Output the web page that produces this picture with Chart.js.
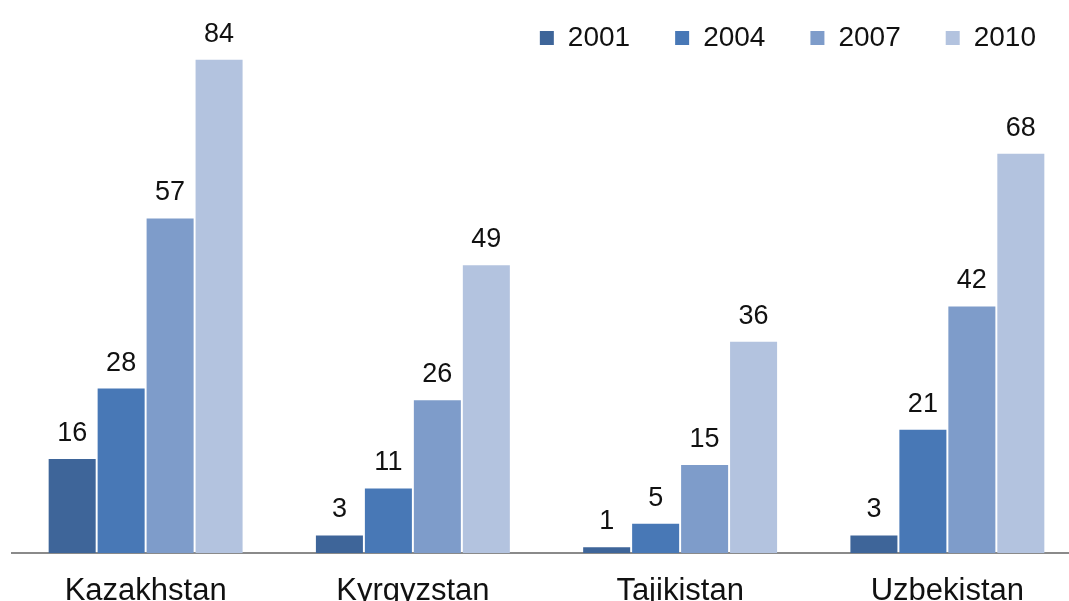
<!DOCTYPE html>
<html>
<head>
<meta charset="utf-8">
<title>Chart</title>
<script src="https://cdn.jsdelivr.net/npm/chart.js@4/dist/chart.umd.min.js"></script>
<style>
  html, body { margin: 0; padding: 0; background: #fff; overflow: hidden; }
  #wrap { position: relative; width: 1081px; height: 601px; }
</style>
</head>
<body>
<div id="wrap"><canvas id="barChart"></canvas></div>
<script>
// Kategorien und Werte je Jahr
const countries = ['Kazakhstan', 'Kyrgyzstan', 'Tajikistan', 'Uzbekistan'];
const years = ['2001', '2004', '2007', '2010'];
const values2001 = [16, 3, 1, 3];
const values2004 = [28, 11, 5, 21];
const values2007 = [57, 26, 15, 42];
const values2010 = [84, 49, 36, 68];

const colors = ['#3e6599', '#4878b6', '#7e9cca', '#b3c3df'];

Chart.defaults.font.family = '"Liberation Sans", Arial, sans-serif';
Chart.defaults.color = '#111';

// Zahlen über den Balken zeichnen
const barValueLabels = {
    id: 'barValueLabels',
    afterDatasetsDraw(chart) {
        const ctx = chart.ctx;
        ctx.save();
        ctx.font = '27px "Liberation Sans", Arial, sans-serif';
        ctx.fillStyle = '#111';
        ctx.textAlign = 'center';
        ctx.textBaseline = 'alphabetic';
        chart.data.datasets.forEach((ds, i) => {
            chart.getDatasetMeta(i).data.forEach((bar, j) => {
                ctx.fillText(String(ds.data[j]), bar.x, bar.y - 18);
            });
        });
        ctx.restore();
    }
};

const seriesValues = [values2001, values2004, values2007, values2010];

const data = {
    labels: countries,
    datasets: years.map((year, i) => ({
        label: year,
        data: seriesValues[i],
        backgroundColor: colors[i],
        borderWidth: 0,
        categoryPercentage: 0.733,
        barPercentage: 0.96
    }))
};

const config = {
    type: 'bar',
    data: data,
    options: {
        responsive: true,
        maintainAspectRatio: false,
        animation: false,
        layout: {
            // Legende etwas nach oben ziehen, damit die Balken genug Platz haben
            padding: { top: -21, left: 12, right: 0, bottom: 0 }
        },
        scales: {
            x: {
                grid: { display: false, drawTicks: false },
                border: { display: true, color: '#8a8a8a', width: 2 },
                ticks: {
                    padding: 20,
                    color: '#111',
                    font: { size: 31 }
                },
                afterFit(scale) {
                    scale.height = 48;
                }
            },
            y: {
                display: false,
                min: 0,
                max: 85
            }
        },
        plugins: {
            legend: {
                position: 'top',
                align: 'end',
                maxHeight: 75,
                labels: {
                    boxWidth: 14,
                    boxHeight: 14,
                    padding: 45,
                    color: '#111',
                    font: { size: 28 }
                }
            },
            tooltip: { enabled: false }
        }
    },
    plugins: [barValueLabels]
};

const barChart = new Chart(document.getElementById('barChart').getContext('2d'), config);
</script>
</body>
</html>
